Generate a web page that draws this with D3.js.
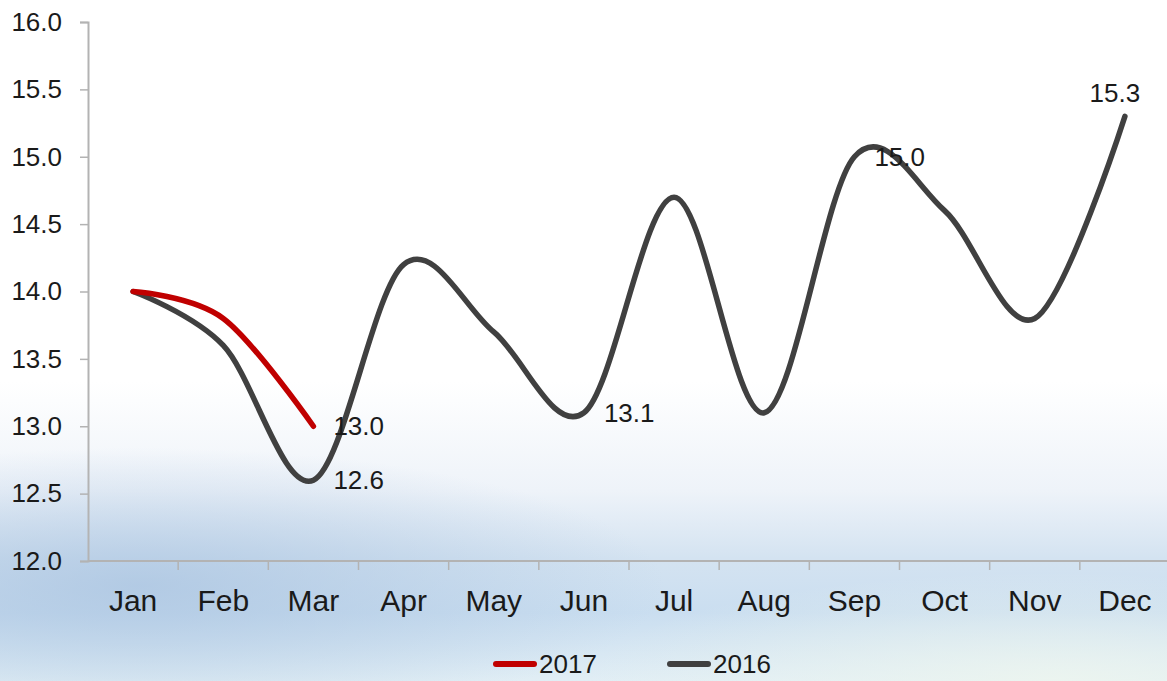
<!DOCTYPE html>
<html>
<head>
<meta charset="utf-8">
<script src="https://cdn.jsdelivr.net/npm/d3@7"></script>
<style>
  html, body { margin: 0; padding: 0; background: #ffffff; }
  svg { display: block; }
  text { font-family: "Liberation Sans", Arial, sans-serif; fill: #1a1a1a; }
</style>
</head>
<body>
<svg id="chart" width="1167" height="681"></svg>
<script>
// Monthly values, two years
const months = ["Jan", "Feb", "Mar", "Apr", "May", "Jun", "Jul", "Aug", "Sep", "Oct", "Nov", "Dec"];
const values2016 = [14.0, 13.6, 12.6, 14.2, 13.7, 13.1, 14.7, 13.1, 15.0, 14.6, 13.8, 15.3];
const values2017 = [14.0, 13.8, 13.0];
const yTicks = [12.0, 12.5, 13.0, 13.5, 14.0, 14.5, 15.0, 15.5, 16.0];

// Value labels: [series, month index, placement]
const labels2016 = [[2, "right"], [5, "right"], [8, "right"], [11, "above"]];
const labels2017 = [[2, "right"]];

const W = 1167, H = 681;
const svg = d3.select("#chart");
const defs = svg.append("defs");

// Backdrop: white at the top, fading into pale blue toward the bottom
const lg = defs.append("linearGradient").attr("id", "bgV")
  .attr("x1", 0).attr("y1", 0).attr("x2", 0).attr("y2", 1);
[[0, "#ffffff"], [0.56, "#ffffff"], [0.72, "#eef3f9"], [0.82, "#d4e3f1"],
 [0.9, "#cadef0"], [1, "#e1eef5"]].forEach(([o, c]) =>
  lg.append("stop").attr("offset", o).attr("stop-color", c));

const rg = defs.append("radialGradient").attr("id", "bgL")
  .attr("cx", 0.12).attr("cy", 0.86).attr("r", 0.45)
  .attr("gradientTransform", "translate(0.12,0.86) scale(1,0.45) translate(-0.12,-0.86)");
rg.append("stop").attr("offset", 0).attr("stop-color", "#a9c3e0").attr("stop-opacity", 0.75);
rg.append("stop").attr("offset", 1).attr("stop-color", "#a9c3e0").attr("stop-opacity", 0);

const rg2 = defs.append("radialGradient").attr("id", "bgR")
  .attr("cx", 0.9).attr("cy", 1.0).attr("r", 0.4)
  .attr("gradientTransform", "translate(0.9,1) scale(1,0.4) translate(-0.9,-1)");
rg2.append("stop").attr("offset", 0).attr("stop-color", "#eef6ee").attr("stop-opacity", 0.8);
rg2.append("stop").attr("offset", 1).attr("stop-color", "#eef6ee").attr("stop-opacity", 0);

svg.append("rect").attr("width", W).attr("height", H).attr("fill", "url(#bgV)");
svg.append("rect").attr("width", W).attr("height", H).attr("fill", "url(#bgL)");
svg.append("rect").attr("width", W).attr("height", H).attr("fill", "url(#bgR)");

// Scales
const x = d3.scaleBand().domain(months).range([88, 1170]).padding(0);
const y = d3.scaleLinear().domain([12, 16]).range([561, 22]);
const cx = m => x(m) + x.bandwidth() / 2;

const axisColor = "#b3b3b3";

// Y axis
const yAxis = svg.append("g").attr("transform", "translate(88,0)")
  .call(d3.axisLeft(y).tickValues(yTicks).tickFormat(d3.format(".1f"))
    .tickSizeOuter(0).tickSize(8).tickPadding(18));
yAxis.select(".domain").attr("stroke", axisColor).attr("stroke-width", 2);
yAxis.selectAll(".tick line").attr("stroke", axisColor).attr("stroke-width", 1.5);
yAxis.selectAll(".tick text").attr("font-size", 26).attr("fill", "#1a1a1a")
  .attr("font-family", "Liberation Sans, Arial, sans-serif");

// X axis with ticks on category boundaries
const xAxis = svg.append("g").attr("transform", "translate(0,561)");
xAxis.append("line").attr("x1", 88).attr("x2", 1170).attr("y1", 0).attr("y2", 0)
  .attr("stroke", axisColor).attr("stroke-width", 2);
xAxis.selectAll("line.tk").data(months.slice(1)).join("line").attr("class", "tk")
  .attr("x1", d => x(d)).attr("x2", d => x(d)).attr("y1", 0).attr("y2", 9)
  .attr("stroke", axisColor).attr("stroke-width", 1.5);
xAxis.selectAll("text").data(months).join("text")
  .attr("x", d => cx(d)).attr("y", 50).attr("text-anchor", "middle")
  .attr("font-size", 30).text(d => d);

// Smoothed series lines
const line = d3.line()
  .x((d, i) => cx(months[i]))
  .y(d => y(d))
  .curve(d3.curveCardinal.tension(0));

svg.append("path").datum(values2016).attr("d", line)
  .attr("fill", "none").attr("stroke", "#404040").attr("stroke-width", 5.5)
  .attr("stroke-linecap", "round").attr("stroke-linejoin", "round");
svg.append("path").datum(values2017).attr("d", line)
  .attr("fill", "none").attr("stroke", "#c00000").attr("stroke-width", 5.5)
  .attr("stroke-linecap", "round").attr("stroke-linejoin", "round");

// Value labels
function addLabels(vals, specs) {
  specs.forEach(([i, pos]) => {
    const px = cx(months[i]), py = y(vals[i]);
    const t = svg.append("text").attr("font-size", 26).text(d3.format(".1f")(vals[i]));
    if (pos === "right") {
      t.attr("x", px + 20).attr("y", py).attr("dy", "0.35em");
    } else {
      t.attr("x", px - 10).attr("y", py - 14).attr("text-anchor", "middle");
    }
  });
}
addLabels(values2016, labels2016);
addLabels(values2017, labels2017);

// Legend
const legend = [["2017", "#c00000", 493], ["2016", "#404040", 667]];
legend.forEach(([name, color, lx]) => {
  svg.append("line").attr("x1", lx + 3).attr("x2", lx + 41).attr("y1", 664).attr("y2", 664)
    .attr("stroke", color).attr("stroke-width", 6).attr("stroke-linecap", "round");
  svg.append("text").attr("x", lx + 46).attr("y", 673).attr("font-size", 26).text(name);
});
</script>
</body>
</html>
